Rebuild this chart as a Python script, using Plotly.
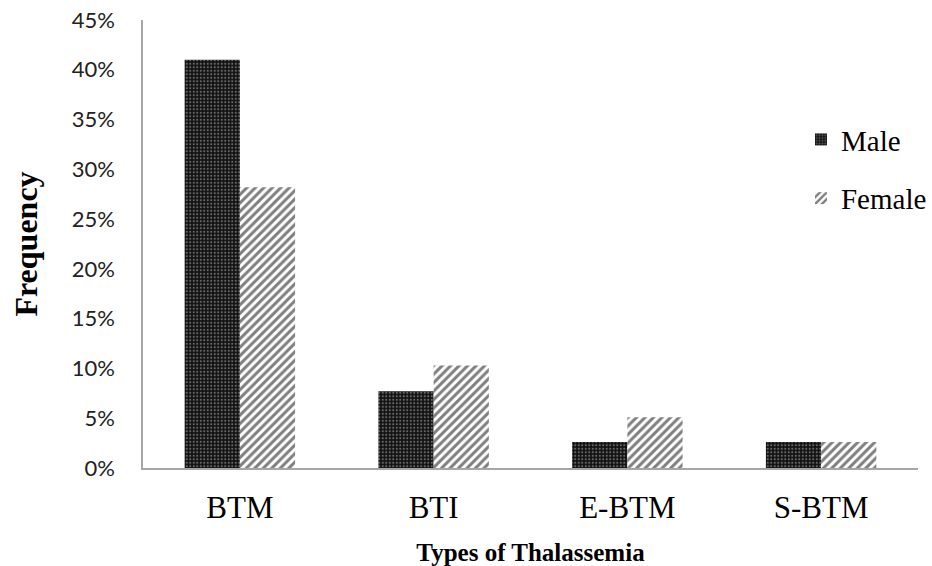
import plotly.graph_objects as go

categories = ["BTM", "BTI", "E-BTM", "S-BTM"]
male = [0.410, 0.077, 0.026, 0.026]
female = [0.282, 0.103, 0.051, 0.026]
ytick_vals = [0, 0.05, 0.10, 0.15, 0.20, 0.25, 0.30, 0.35, 0.40, 0.45]
ytick_text = ["0%", "5%", "10%", "15%", "20%", "25%", "30%", "35%", "40%", "45%"]

fig = go.Figure()
fig.add_trace(go.Bar(
    x=categories, y=male, name="Male", legendgroup="m",
    marker=dict(color="#111111", line=dict(width=0),
                pattern=dict(shape=".", fgcolor="#bbbbbb", bgcolor="#111111",
                             size=3.5, solidity=0.3)),
))
fig.add_trace(go.Bar(
    x=categories, y=female, name="Female", legendgroup="f",
    marker=dict(color="white", line=dict(width=0),
                pattern=dict(shape="/", fgcolor="black", bgcolor="white",
                             size=6, solidity=0.5)),
))

fig.update_layout(
    width=932, height=566,
    paper_bgcolor="white", plot_bgcolor="white",
    margin=dict(l=143, r=14, t=20, b=98, autoexpand=False),
    barmode="group", bargap=0.43, bargroupgap=0,
    font=dict(family="Liberation Serif", color="black"),
    showlegend=True,
    legend=dict(x=0.849, y=0.79, xanchor="left", yanchor="top",
                font=dict(family="Liberation Serif", size=29),
                itemwidth=30, tracegroupgap=18, bgcolor="rgba(0,0,0,0)"),
    xaxis=dict(
        showline=True, linecolor="#a6a6a6", linewidth=2, automargin=False,
        ticks="", tickfont=dict(family="Liberation Serif", size=31),
        ticklabelstandoff=11,
        title=dict(text="<b>Types of Thalassemia</b>",
                   font=dict(family="Liberation Serif", size=25), standoff=20),
    ),
    yaxis=dict(
        range=[0, 0.45], tickvals=ytick_vals, ticktext=ytick_text,
        showline=True, linecolor="#a6a6a6", linewidth=1.5, automargin=False,
        showgrid=False, zeroline=False, ticks="", ticklabelstandoff=22,
        tickfont=dict(family="Lato", size=22, color="#222"),
        title=dict(text="<b>Frequency</b>",
                   font=dict(family="Liberation Serif", size=32), standoff=24),
    ),
)

fig.write_html("out.html",
               config={"displayModeBar": False},
               post_script="document.body.style.margin='0';document.body.style.overflow='hidden';")
